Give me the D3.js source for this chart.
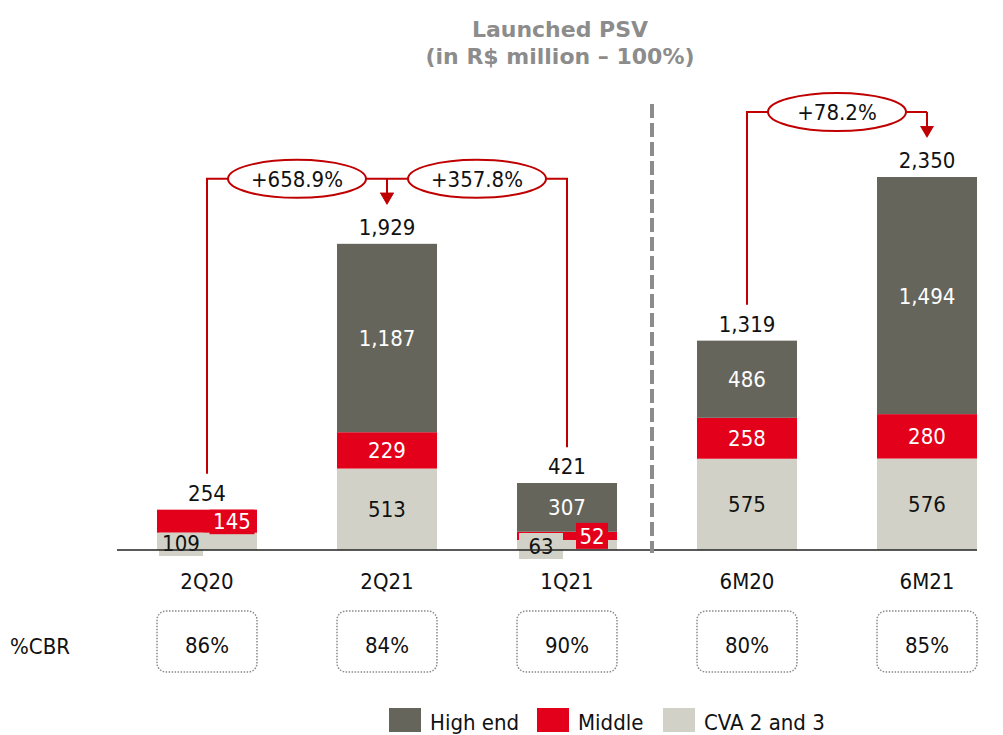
<!DOCTYPE html>
<head>
  <script src="https://d3js.org/d3.v7.min.js"></script>
  <style>
    body { margin: 0; background: #fff; }
    text { font-family: "DejaVu Sans Condensed", "DejaVu Sans", Tahoma, sans-serif; font-stretch: condensed; }
    .title { font-family: "DejaVu Sans", Tahoma, sans-serif; font-stretch: normal; }
  </style>
</head>
<body>
  <svg id="chart"></svg>
</body>

<script>

    // data
    var categories = ["2Q20", "2Q21", "1Q21", "6M20", "6M21"];
    var highEnd = [0, 1187, 307, 486, 1494];
    var middle = [145, 229, 52, 258, 280];
    var cva = [109, 513, 63, 575, 576];
    var totals = [254, 1929, 421, 1319, 2350];
    var cbr = ["86%", "84%", "90%", "80%", "85%"];
    var growthFrom = ["2Q20", "1Q21", "6M20"];
    var growthTo = ["2Q21", "2Q21", "6M21"];
    var growthLabels = ["+658.9%", "+357.8%", "+78.2%"];
    var seriesNames = ["High end", "Middle", "CVA 2 and 3"];

    var width = 1003, height = 735;
    var colors = { "High end": "#65655c", "Middle": "#e3001b", "CVA 2 and 3": "#d1d1c7" };
    var labelColors = { "High end": "#fff", "Middle": "#fff", "CVA 2 and 3": "#111" };
    var red = "#c00000";
    var fs = "22px";

    var svg = d3.select('#chart')
      .attr('width', width)
      .attr('height', height);

    var x = d3.scaleBand()
      .domain(categories)
      .range([117, 1017])
      .paddingInner(80 / 180)
      .paddingOuter(40 / 180);

    var y = d3.scaleLinear()
      .domain([0, 2350])
      .range([550, 177]);

    var rows = categories.map(function (c, i) {
      return { cat: c, "High end": highEnd[i], "Middle": middle[i], "CVA 2 and 3": cva[i] };
    });
    var stack = d3.stack().keys(["CVA 2 and 3", "Middle", "High end"]);
    var series = stack(rows);

    // title
    svg.append("text").attr("class", "title").attr("x", 560).attr("y", 37)
      .attr("text-anchor", "middle").style("font-size", fs).style("font-weight", "bold")
      .style("fill", "#8c8c8c").text("Launched PSV");
    svg.append("text").attr("class", "title").attr("x", 560).attr("y", 64)
      .attr("text-anchor", "middle").style("font-size", fs).style("font-weight", "bold")
      .style("fill", "#8c8c8c").text("(in R$ million \u2013 100%)");

    // bars
    series.forEach(function (s) {
      svg.append("g").selectAll("rect")
        .data(s)
        .enter().append("rect")
        .attr("x", function (d) { return x(d.data.cat); })
        .attr("y", function (d) { return y(d[1]); })
        .attr("width", x.bandwidth())
        .attr("height", function (d) { return y(d[0]) - y(d[1]); })
        .style("fill", colors[s.key]);
    });

    // segment labels
    series.forEach(function (s) {
      s.forEach(function (d) {
        var v = d[1] - d[0];
        if (!v) return;
        var h = y(d[0]) - y(d[1]);
        var cx = x(d.data.cat) + x.bandwidth() / 2;
        var cy = (y(d[0]) + y(d[1])) / 2;
        var txt = d3.format(",")(v);
        if (h < 30) {
          // small segment: label sits in a little box of the same colour
          var bw = txt.length * 13 + 6, bh = 26;
          if (s.key === "CVA 2 and 3") { cx = x(d.data.cat) + 24; bw = 44; cy = Math.max(cy + 1, y(0) - 7); }
          else { cx = x(d.data.cat) + 75; }
          var top = Math.max(cy - bh / 2, y(d[1] + d.data["High end"]));
          svg.append("rect").attr("x", cx - bw / 2).attr("y", top)
            .attr("width", bw).attr("height", cy + bh / 2 - top).style("fill", colors[s.key]);
        }
        svg.append("text").attr("x", cx).attr("y", cy + 8)
          .attr("text-anchor", "middle").style("font-size", fs)
          .style("fill", labelColors[s.key]).text(txt);
      });
    });

    // totals
    svg.append("g").selectAll("text")
      .data(categories)
      .enter().append("text")
      .attr("x", function (d) { return x(d) + x.bandwidth() / 2; })
      .attr("y", function (d, i) { return y(totals[i]) - 9; })
      .attr("text-anchor", "middle").style("font-size", fs).style("fill", "#111")
      .text(function (d, i) { return d3.format(",")(totals[i]); });

    // baseline
    svg.append("line")
      .attr("x1", 117).attr("x2", x(categories[4]) + x.bandwidth())
      .attr("y1", y(0)).attr("y2", y(0))
      .style("stroke", "#222").style("stroke-width", 1.5);

    // category labels
    svg.append("g").selectAll("text")
      .data(categories)
      .enter().append("text")
      .attr("x", function (d) { return x(d) + x.bandwidth() / 2; })
      .attr("y", 589)
      .attr("text-anchor", "middle").style("font-size", fs).style("fill", "#111")
      .text(function (d) { return d; });

    // separator between quarters and semesters
    var sepX = (x("1Q21") + x.bandwidth() + x("6M20")) / 2 - 5;
    svg.append("line")
      .attr("x1", sepX).attr("x2", sepX).attr("y1", 104).attr("y2", 553)
      .style("stroke", "#8c8c8c").style("stroke-width", 4).style("stroke-dasharray", "14,5");

    // %CBR boxes
    svg.append("text").attr("x", 10).attr("y", 654)
      .style("font-size", fs).style("fill", "#111").text("%CBR");
    var cb = svg.append("g").selectAll("g")
      .data(categories)
      .enter().append("g");
    cb.append("rect")
      .attr("x", function (d) { return x(d); })
      .attr("y", 611).attr("width", x.bandwidth()).attr("height", 61)
      .attr("rx", 9)
      .style("fill", "none").style("stroke", "#8a8a8a").style("stroke-width", 1.5)
      .style("stroke-dasharray", "1.5,1.5");
    cb.append("text")
      .attr("x", function (d) { return x(d) + x.bandwidth() / 2; })
      .attr("y", 653)
      .attr("text-anchor", "middle").style("font-size", fs).style("fill", "#111")
      .text(function (d, i) { return cbr[i]; });

    // growth brackets
    var ga = svg.append("g");
    growthLabels.forEach(function (lab, i) {
      var a = categories.indexOf(growthFrom[i]), b = categories.indexOf(growthTo[i]);
      var xa = x(growthFrom[i]) + x.bandwidth() / 2, xb = x(growthTo[i]) + x.bandwidth() / 2;
      var top = y(Math.max(totals[a], totals[b])) - 65;
      var ya = y(totals[a]) - 36;
      ga.append("path")
        .attr("d", "M" + xa + "," + ya + "V" + top + "H" + xb)
        .style("fill", "none").style("stroke", red).style("stroke-width", 2);
      var tip = y(totals[b]) - 39;
      ga.append("line").attr("x1", xb).attr("x2", xb).attr("y1", top).attr("y2", tip - 10)
        .style("stroke", red).style("stroke-width", 2);
      ga.append("path")
        .attr("d", "M" + (xb - 7) + "," + (tip - 12) + "L" + (xb + 7) + "," + (tip - 12) + "L" + xb + "," + tip + "Z")
        .style("fill", red);
      var mx = (xa + xb) / 2;
      ga.append("ellipse").attr("cx", mx).attr("cy", top).attr("rx", Math.abs(xb - xa) > 170 ? 69 : 60).attr("ry", 19)
        .style("fill", "#fff").style("stroke", red).style("stroke-width", 2);
      ga.append("text").attr("x", mx).attr("y", top + 8)
        .attr("text-anchor", "middle").style("font-size", fs).style("fill", "#111").text(lab);
    });

    // legend
    var legX = [389, 537, 663];
    var lg = svg.append("g").selectAll("g")
      .data(seriesNames)
      .enter().append("g")
      .attr("transform", function (d, i) { return "translate(" + legX[i] + ",708)"; });
    lg.append("rect").attr("width", 32).attr("height", 24)
      .style("fill", function (d) { return colors[d]; });
    lg.append("text").attr("x", 41).attr("y", 22)
      .style("font-size", fs).style("fill", "#111").text(function (d) { return d; });

</script>
